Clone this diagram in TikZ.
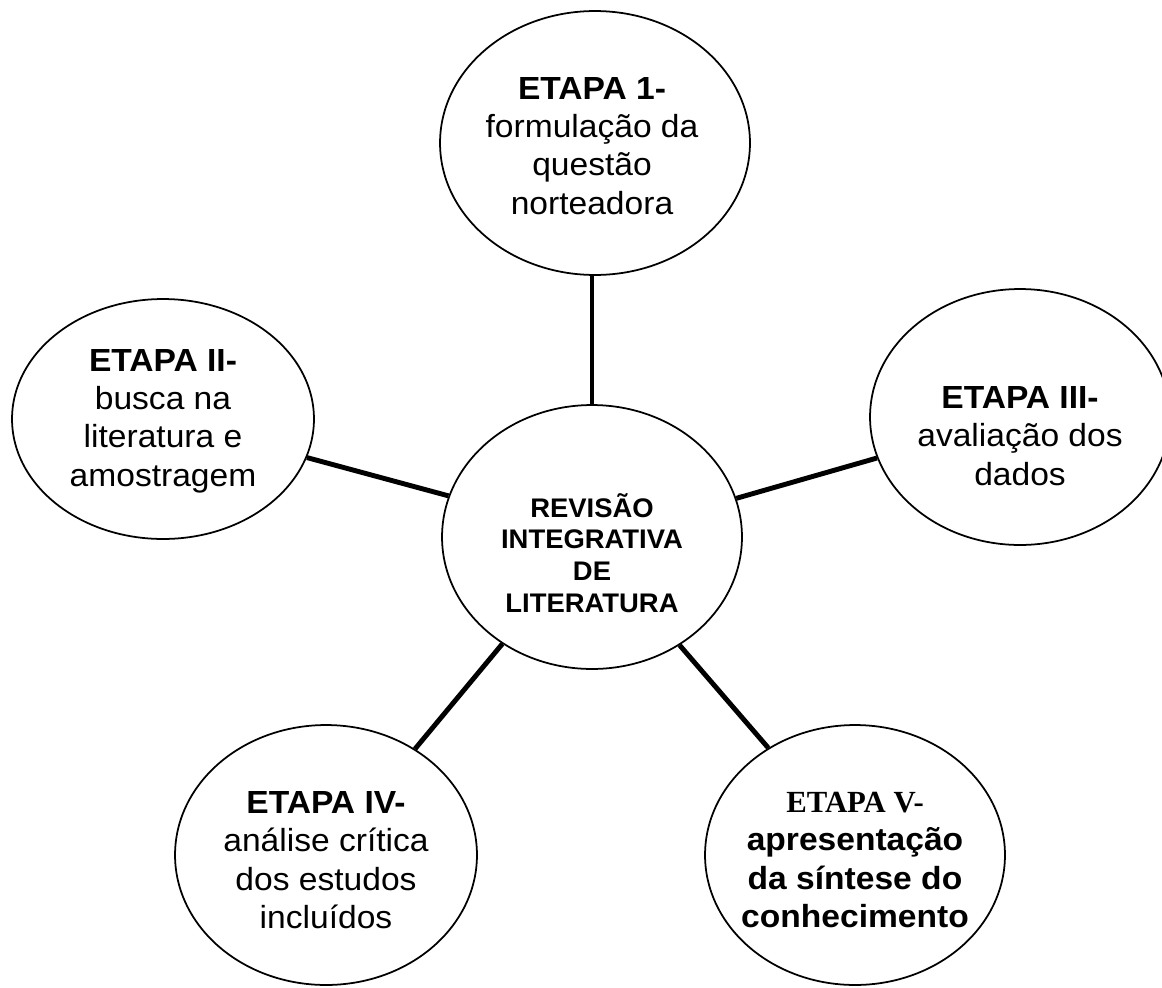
\documentclass[tikz,border=0pt]{standalone}
\usepackage{fontspec}
\setmainfont{Liberation Sans}
\newfontfamily\stagefont[FakeStretch=1.05]{Liberation Sans}
\newfontfamily\hubfont[FakeStretch=1.02]{Liberation Sans}
\newfontfamily\serifstage{Liberation Serif}
\usetikzlibrary{shapes.geometric}

\begin{document}
\begin{tikzpicture}[x=0.02cm, y=-0.02cm,
  stage/.style={ellipse, draw, line width=1pt, inner sep=0pt},
  stagetext/.style={align=center, inner sep=0pt,
                    font=\stagefont\fontsize{18.2}{21.8}\selectfont},
  hubtext/.style={align=center, inner sep=0pt,
                  font=\hubfont\bfseries\fontsize{15.3}{18.1}\selectfont},
  link/.style={line width=2.8pt}]

\useasboundingbox (0,0) rectangle (1162,987);

\node[stage, minimum width=6cm, minimum height=5.28cm] (hub) at (592,537) {};
\node[stage, minimum width=6.2cm, minimum height=5.28cm] (etapa1) at (595,143) {};
\node[stage, minimum width=6.04cm, minimum height=4.8cm] (etapa2) at (163,419) {};
\node[stage, minimum width=6cm, minimum height=5.12cm] (etapa3) at (1020,417) {};
\node[stage, minimum width=6.04cm, minimum height=5.2cm] (etapa4) at (326,855) {};
\node[stage, minimum width=6cm, minimum height=5.2cm] (etapa5) at (855,855) {};

\node[hubtext] (hubtitle) at (592,553)
  {REVISÃO\\INTEGRATIVA\\DE\\LITERATURA};
\node[stagetext] (etapa1text) at (592,146)
  {\textbf{ETAPA 1-}\\formulação da\\questão\\norteadora};
\node[stagetext] (etapa2text) at (163,421)
  {\textbf{ETAPA II-}\\busca na\\literatura e\\amostragem};
\node[stagetext] (etapa3text) at (1020,436)
  {\textbf{ETAPA III-}\\avaliação dos\\dados};
\node[stagetext] (etapa4text) at (326,860)
  {\textbf{ETAPA IV-}\\análise crítica\\dos estudos\\incluídos};
\node[stagetext, font=\stagefont\bfseries\fontsize{18.2}{21.8}\selectfont]
  (etapa5text) at (855,860)
  {{\serifstage\bfseries\fontsize{17.5}{21.8}\selectfont ETAPA V-}\\apresentação\\da síntese do\\conhecimento};

\draw[link] (hub.north) -- (hub.north |- etapa1.south);
\draw[link] (etapa2.-15.4) -- (hub.164.8);
\draw[link] (hub.15.3) -- (etapa3.196.1);
\draw[link] (hub.230.2) -- (etapa4.50.3);
\draw[link] (hub.309.2) -- (etapa5.129.6);

\end{tikzpicture}
\end{document}
